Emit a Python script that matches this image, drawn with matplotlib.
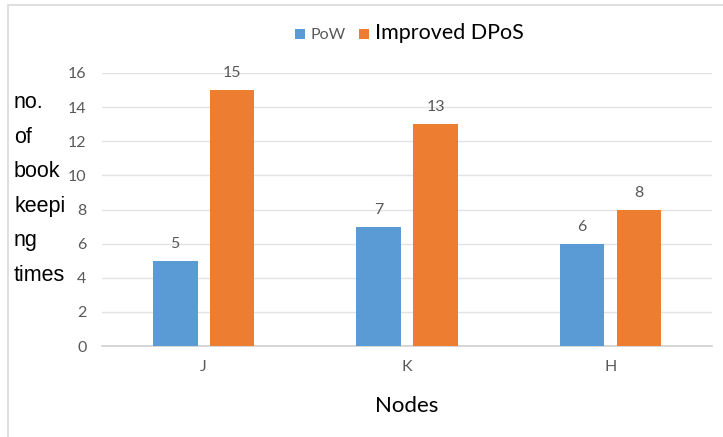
import matplotlib

matplotlib.use('Agg')
import matplotlib.pyplot as plt
import matplotlib.patches as mpatches
import numpy as np

# 数据
nodes = ['J', 'K', 'H']
pow_counts = [5, 7, 6]
dpos_counts = [15, 13, 8]
y_ticks = [0, 2, 4, 6, 8, 10, 12, 14, 16]

blue = '#5B9BD5'
orange = '#ED7D31'
gray = '#595959'

plt.rcParams['font.family'] = ['Lato', 'DejaVu Sans']

fig = plt.figure(figsize=(7.23, 4.37), dpi=100)
ax = fig.add_axes([0.141, 0.208, 0.844, 0.625])

# 外框（左、上）
fig.patches.append(mpatches.Rectangle((8 / 723, -0.1), 1.2, 1 - 5 / 437 + 0.1,
                                      transform=fig.transFigure, fill=False,
                                      edgecolor='#d9d9d9', linewidth=1.2))

x = np.arange(len(nodes))
w = 0.22
off = 0.14
b1 = ax.bar(x - off, pow_counts, w, color=blue, label='PoW', zorder=3)
b2 = ax.bar(x + off, dpos_counts, w, color=orange, label='Improved DPoS', zorder=3)

for bars in (b1, b2):
    for rect in bars:
        ax.annotate(f'{int(rect.get_height())}',
                    (rect.get_x() + rect.get_width() / 2, rect.get_height()),
                    xytext=(0, 7), textcoords='offset points',
                    ha='center', va='bottom', fontsize=11.5, color=gray)

ax.set_xlim(-0.5, 2.5)
ax.set_ylim(0, 16)
ax.set_yticks(y_ticks)
ax.set_xticks(x)
ax.set_xticklabels(nodes)
ax.tick_params(axis='both', length=0, labelsize=11.5, labelcolor=gray)
ax.tick_params(axis='y', pad=11)
ax.tick_params(axis='x', pad=10)
ax.grid(axis='y', color='#e3e3e3', linewidth=1, zorder=0)
for s in ('top', 'right', 'left'):
    ax.spines[s].set_visible(False)
ax.spines['bottom'].set_color('#d0d0d0')
ax.spines['bottom'].set_linewidth(1.2)

ax.set_xlabel('Nodes', fontsize=16, color='black', labelpad=16)

fig.text(14 / 723, 1 - 92 / 437, 'no.\nof\nbook\nkeepi\nng\ntimes',
         ha='left', va='top', fontsize=15.5, family=['Liberation Sans'],
         linespacing=1.85, color='black')

leg = fig.legend(handles=[b1, b2], loc='center', bbox_to_anchor=(0.566, 1 - 33 / 437),
                 ncol=2, frameon=False, handlelength=0.7, handleheight=0.7,
                 handletextpad=0.4, columnspacing=1.0)
texts = leg.get_texts()
texts[0].set_fontsize(11.5)
texts[0].set_color(gray)
texts[1].set_fontsize(15.5)
texts[1].set_color('black')

fig.savefig('out.png', dpi=100)
